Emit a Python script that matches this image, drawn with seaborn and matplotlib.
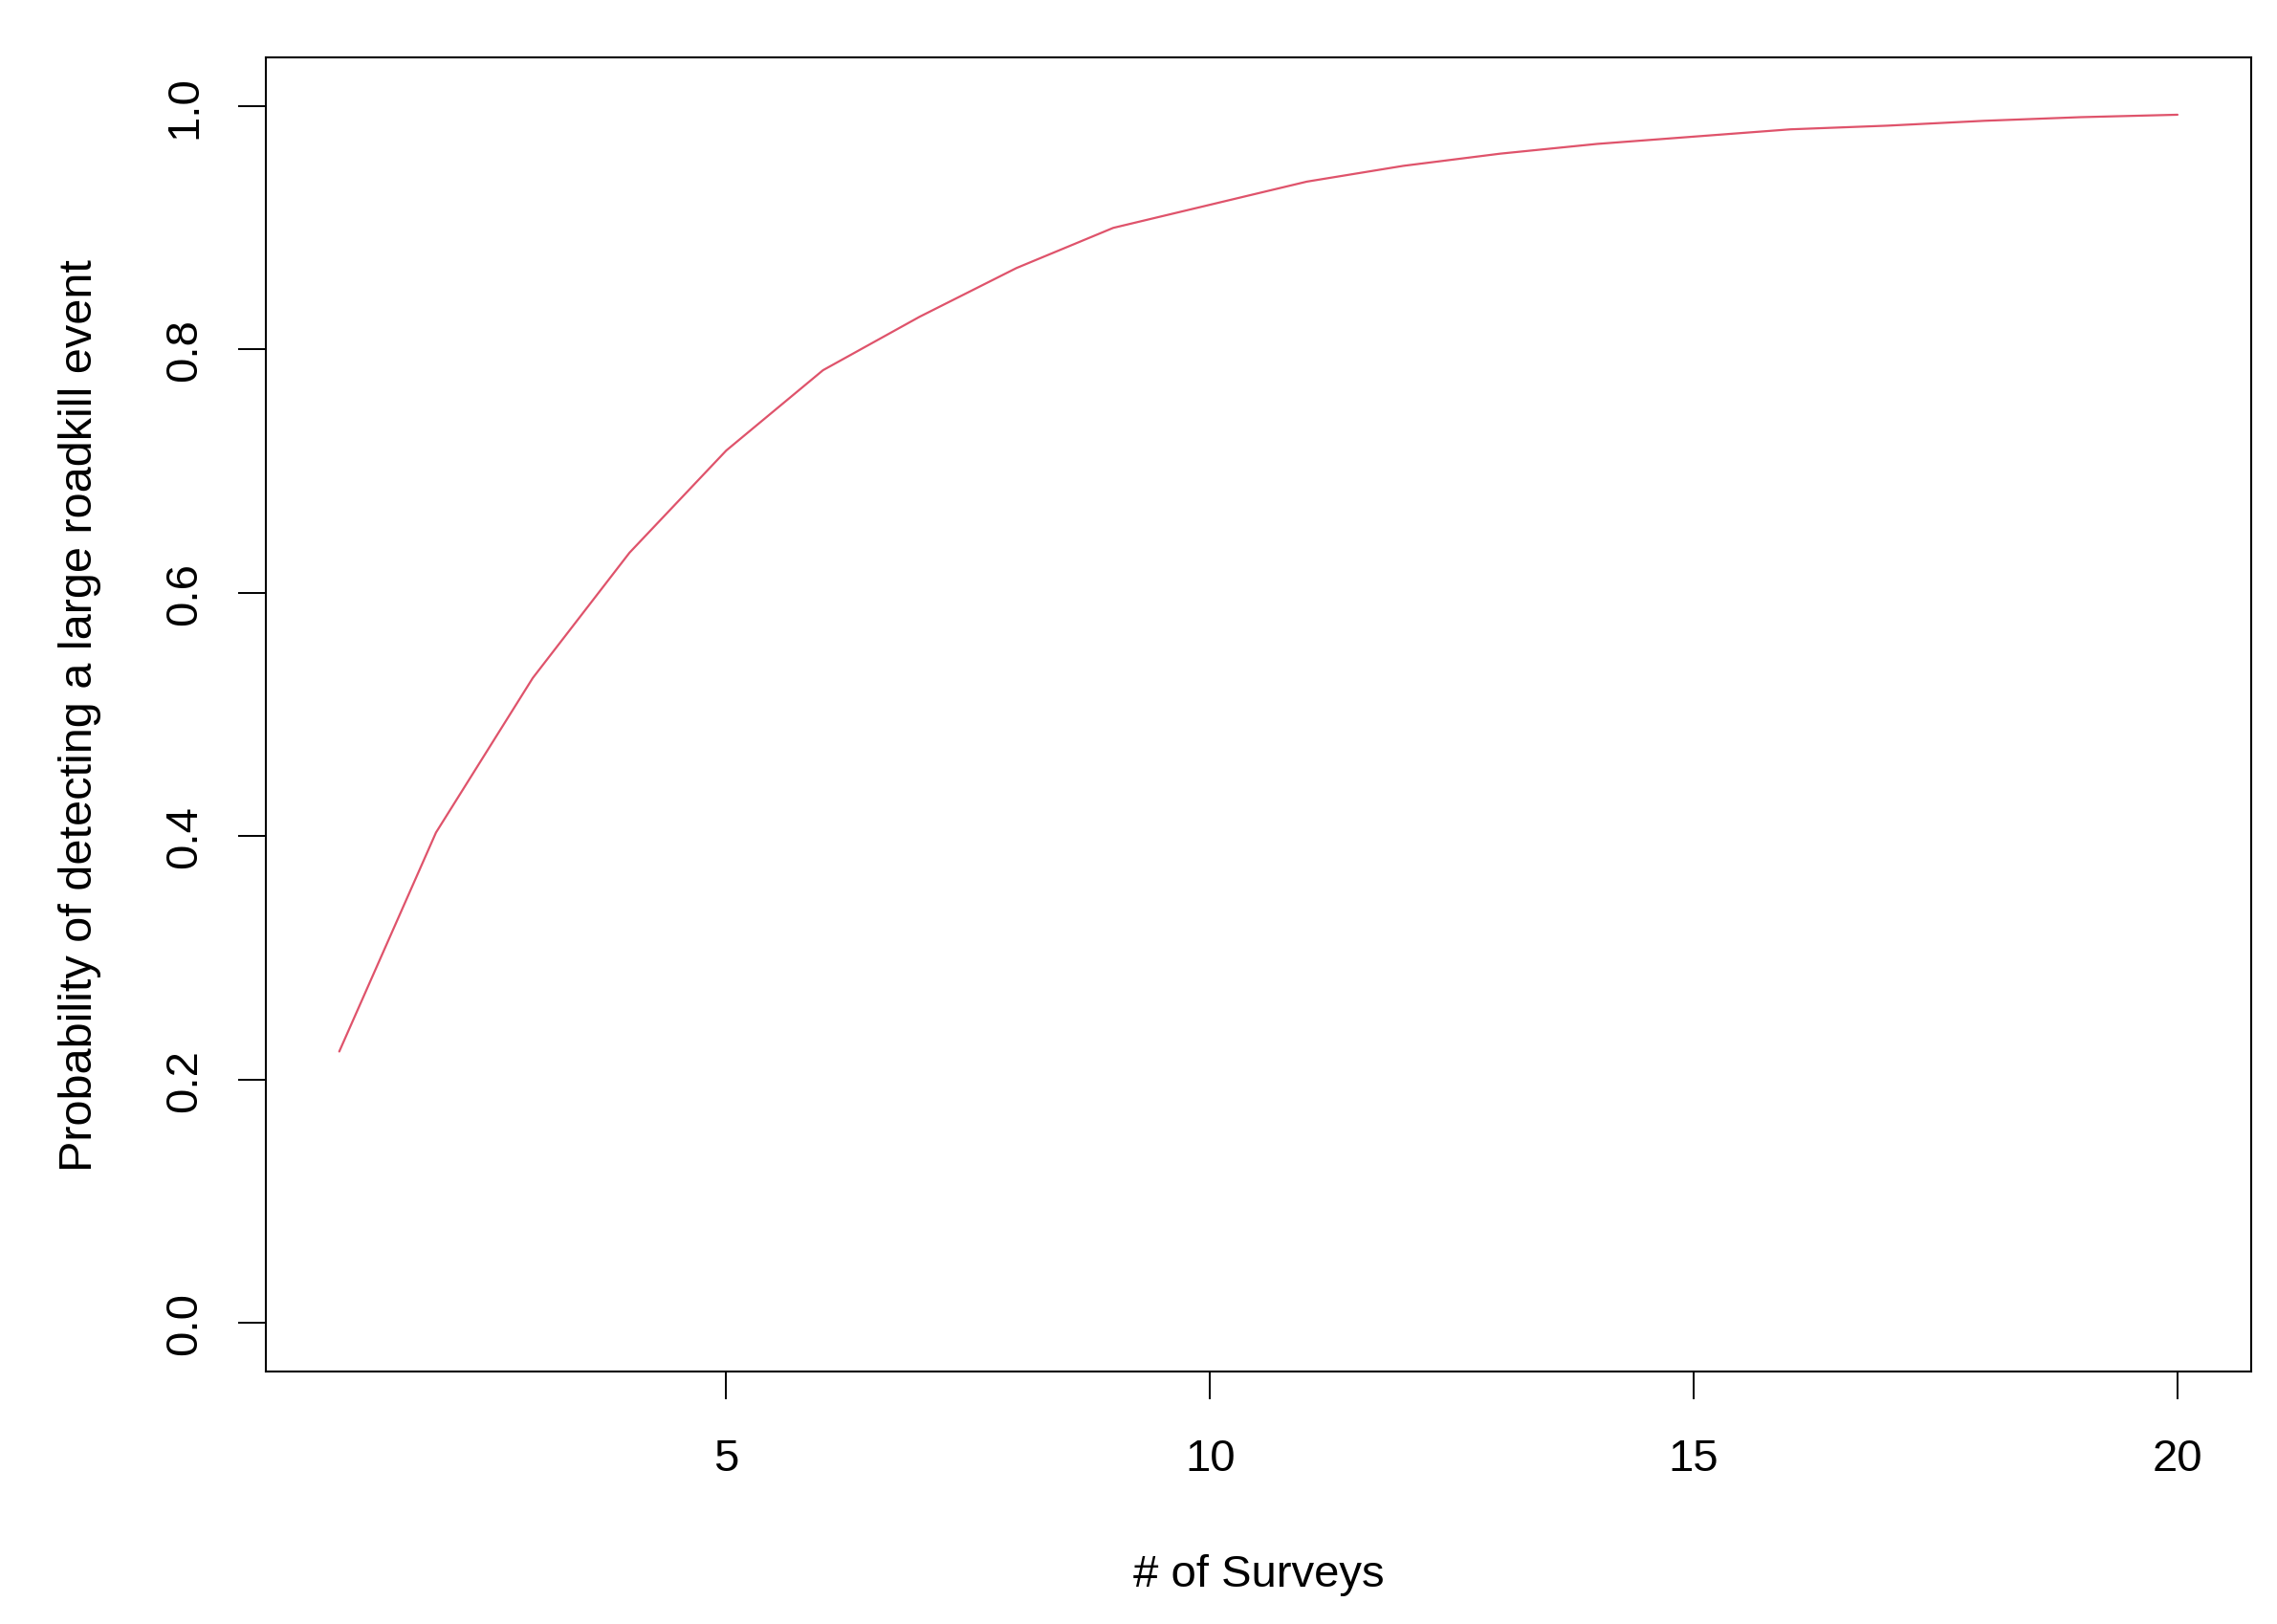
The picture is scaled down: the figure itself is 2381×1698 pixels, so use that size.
import matplotlib
matplotlib.use('Agg')
import matplotlib.pyplot as plt
import seaborn as sns

# Data
surveys = list(range(1, 21))
prob_detect = [0.223, 0.403, 0.530, 0.633, 0.717, 0.783, 0.827, 0.867, 0.900, 0.919,
               0.938, 0.951, 0.961, 0.969, 0.975, 0.981, 0.984, 0.988, 0.991, 0.993]
x_ticks = [5, 10, 15, 20]
y_ticks = [0.0, 0.2, 0.4, 0.6, 0.8, 1.0]

sns.set_theme(style='ticks')
plt.rcParams['font.family'] = ['Liberation Sans', 'DejaVu Sans']

fig = plt.figure(figsize=(23.81, 16.99), dpi=100)
ax = fig.add_axes([0.1167, 0.1554, 0.9886 - 0.1167, 0.964 - 0.1554])

sns.lineplot(x=surveys, y=prob_detect, color='#DF536B', linewidth=1.6, ax=ax)

ax.set_xlim(0.24, 20.76)
ax.set_ylim(-0.04, 1.04)
ax.set_xticks(x_ticks)
ax.set_xticklabels([str(t) for t in x_ticks])
ax.set_yticks(y_ticks)
ax.set_yticklabels([f'{t:.1f}' for t in y_ticks], rotation=90, va='center')

for side in ['top', 'right', 'bottom', 'left']:
    ax.spines[side].set_visible(True)
    ax.spines[side].set_color('black')
    ax.spines[side].set_linewidth(1.5)

ax.tick_params(axis='both', direction='out', length=21, width=1.4,
               color='black', labelsize=34, labelcolor='black')
ax.tick_params(axis='x', pad=29)
ax.tick_params(axis='y', pad=24)

ax.set_xlabel('# of Surveys', fontsize=34, labelpad=55, color='black')
ax.set_ylabel('Probability of detecting a large roadkill event', fontsize=35,
              labelpad=47, color='black')

fig.savefig('out.png', dpi=100, facecolor='white')
